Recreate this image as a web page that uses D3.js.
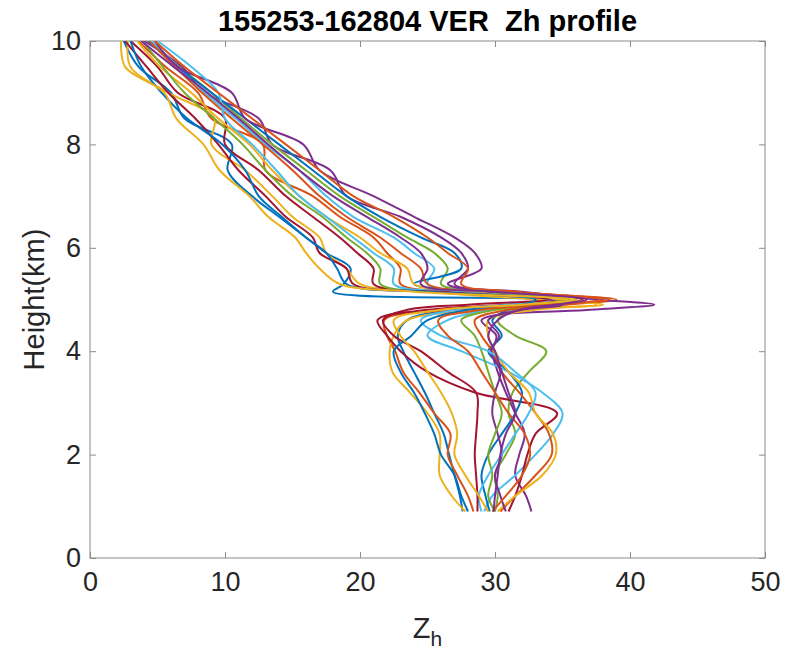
<!DOCTYPE html>
<html>
<head>
<meta charset="utf-8">
<script src="https://cdn.jsdelivr.net/npm/d3@7"></script>
<style>
  body { margin: 0; background: #fff; }
  svg { font-family: "Liberation Sans", Arial, sans-serif; }
</style>
</head>
<body>
<svg width="790" height="655"></svg>
<script>
// heights (km) shared by every profile
var heights = [0.9, 1.2, 1.6, 2.0, 2.4, 2.8, 3.2, 3.6, 4.0, 4.3, 4.6, 4.8, 4.9, 5.0, 5.15, 5.3, 5.6, 5.9, 6.2, 6.6, 7.0, 7.5, 8.0, 8.5, 9.0, 9.5, 10.0];

// Zh values (dBZ) per profile, same order as heights
var zh01 = [27.6, 27.4, 27.0, 26.6, 26.2, 25.5, 24.8, 24.0, 23.2, 22.8, 23.5, 27.0, 31.0, 33.5, 18.0, 18.8, 19.3, 17.5, 16.0, 14.0, 12.0, 10.2, 10.5, 7.0, 6.0, 3.6, 2.5];
var zh02 = [28.4, 28.0, 27.2, 26.5, 26.7, 25.5, 24.4, 23.2, 22.6, 22.0, 21.8, 27.0, 35.0, 39.0, 30.0, 23.0, 23.0, 22.0, 21.0, 18.5, 16.5, 13.0, 12.8, 9.0, 8.0, 5.6, 3.6];
var zh03 = [27.8, 26.8, 25.9, 25.9, 25.9, 25.0, 23.7, 22.4, 22.2, 22.5, 23.5, 30.0, 38.0, 33.0, 25.0, 20.0, 19.0, 17.5, 17.0, 15.0, 13.5, 11.5, 9.0, 9.2, 5.8, 3.0, 2.8];
var zh04 = [32.7, 32.3, 31.5, 31.8, 32.2, 31.5, 30.8, 30.2, 29.8, 30.1, 29.0, 37.0, 41.8, 37.5, 32.0, 27.0, 28.0, 27.5, 26.0, 23.0, 19.0, 17.8, 13.5, 12.5, 8.5, 6.8, 4.0];
var zh05 = [30.0, 30.2, 30.0, 30.8, 31.5, 31.0, 31.3, 32.5, 33.8, 31.5, 30.2, 31.5, 33.0, 35.0, 30.0, 26.0, 26.5, 25.5, 23.5, 21.0, 18.5, 16.0, 13.5, 11.2, 9.0, 6.6, 4.3];
var zh06 = [29.2, 29.8, 31.5, 33.0, 34.3, 35.0, 33.5, 31.0, 27.5, 25.0, 26.5, 29.5, 32.5, 34.5, 29.0, 25.0, 25.5, 24.0, 22.5, 19.5, 17.5, 15.5, 13.0, 10.8, 8.5, 6.5, 4.6];
var zh07 = [31.0, 31.5, 32.0, 32.4, 33.0, 34.6, 28.5, 25.0, 23.0, 22.0, 21.3, 25.0, 31.0, 36.5, 28.0, 21.0, 21.0, 19.8, 18.5, 16.5, 14.5, 12.5, 10.0, 10.0, 6.5, 5.0, 3.0];
var zh08 = [29.6, 29.3, 29.0, 29.5, 30.5, 31.5, 32.0, 31.0, 29.5, 30.5, 29.8, 31.0, 33.0, 35.5, 28.0, 24.0, 27.5, 27.0, 24.5, 21.5, 19.0, 16.5, 14.0, 11.5, 9.0, 6.5, 4.3];
var zh09 = [30.4, 31.5, 33.0, 34.2, 34.0, 33.0, 31.8, 30.5, 29.8, 29.0, 28.5, 31.0, 35.0, 37.8, 31.0, 25.0, 24.5, 23.0, 21.5, 19.0, 17.0, 15.0, 12.8, 10.5, 8.3, 6.3, 4.4];
var zh10 = [30.2, 31.5, 33.5, 34.5, 34.3, 33.0, 32.5, 31.0, 30.0, 29.5, 29.5, 33.0, 37.5, 35.0, 29.0, 24.0, 23.5, 21.5, 20.0, 17.5, 15.5, 13.5, 11.8, 9.5, 7.5, 5.2, 3.5];
var zh11 = [30.8, 30.4, 30.0, 30.5, 30.2, 29.8, 30.0, 30.4, 29.7, 30.3, 29.5, 32.0, 35.0, 34.0, 29.5, 26.5, 29.0, 28.5, 27.0, 24.0, 21.0, 17.0, 15.8, 11.5, 10.5, 6.5, 4.8];
var zh12 = [30.0, 29.5, 29.8, 29.5, 30.0, 30.5, 30.0, 29.5, 29.0, 28.5, 27.5, 30.0, 33.0, 36.0, 27.0, 21.5, 21.5, 20.5, 19.0, 17.2, 15.0, 13.0, 11.3, 9.2, 7.0, 5.4, 3.9];
var zh13 = [29.0, 28.8, 29.5, 30.5, 31.5, 32.5, 33.0, 31.5, 29.5, 26.0, 24.5, 27.0, 31.0, 34.0, 27.0, 22.5, 22.5, 21.0, 19.5, 17.5, 15.5, 13.8, 12.0, 10.0, 9.5, 7.5, 5.0];
var zh14 = [28.7, 28.7, 28.6, 28.5, 28.6, 28.7, 28.6, 26.5, 24.5, 22.5, 21.7, 23.5, 28.0, 34.0, 26.0, 19.5, 19.0, 17.0, 16.5, 14.5, 13.0, 11.0, 9.5, 7.8, 5.8, 4.2, 2.6];
var zh15 = [28.0, 27.5, 27.0, 26.0, 25.5, 24.8, 24.0, 23.0, 22.5, 23.8, 25.0, 28.0, 32.0, 33.0, 25.0, 19.0, 18.3, 17.5, 16.0, 14.2, 12.5, 11.5, 9.8, 7.2, 5.3, 3.8, 3.0];
var zh16 = [29.8, 30.8, 32.0, 32.6, 32.2, 31.0, 30.0, 29.0, 28.0, 26.5, 25.8, 29.0, 34.0, 38.5, 31.5, 27.5, 28.0, 26.5, 25.0, 22.5, 19.5, 17.0, 14.5, 12.0, 9.5, 7.0, 4.8];
var zh17 = [29.5, 28.8, 27.8, 27.0, 27.2, 26.8, 26.0, 25.0, 24.0, 23.0, 22.5, 26.0, 32.0, 36.0, 24.0, 18.5, 17.0, 16.0, 15.2, 13.2, 11.8, 9.6, 8.4, 6.4, 5.5, 2.6, 2.3];
var zh18 = [29.9, 30.0, 30.2, 30.4, 30.8, 31.5, 31.0, 30.5, 30.0, 29.5, 30.2, 31.8, 34.5, 36.8, 30.0, 24.5, 25.0, 24.5, 23.0, 20.5, 18.0, 15.5, 13.2, 11.0, 8.7, 6.2, 3.8];

var profiles = [zh01, zh02, zh03, zh04, zh05, zh06, zh07, zh08, zh09, zh10, zh11, zh12, zh13, zh14, zh15, zh16, zh17, zh18];

var xTicks = [0, 10, 20, 30, 40, 50];
var yTicks = [0, 2, 4, 6, 8, 10];
var lineColors = ["#0072BD", "#D95319", "#EDB120", "#7E2F8E", "#77AC30", "#4DBEEE", "#A2142F"];

const LEFT = 90;
const RIGHT = 765;
const TOP = 41;
const BOTTOM = 558;
const TEXT_COLOR = "#262626";
const AXIS_COLOR = "#8a8a8a";

var svg = d3.select("svg");
var x_scale = d3.scaleLinear().domain([0, 50]).range([LEFT, RIGHT]);
var y_scale = d3.scaleLinear().domain([0, 10]).range([BOTTOM, TOP]);

function style_axis(g, showText) {
  g.select(".domain").remove();
  g.selectAll(".tick line").attr("stroke", AXIS_COLOR);
  g.selectAll(".tick text")
    .attr("fill", TEXT_COLOR)
    .style("font-size", "27px")
    .style("font-family", "'Liberation Sans', Arial, sans-serif")
    .style("display", showText ? null : "none");
}

function build_axes() {
  svg.append("g")
    .attr("transform", "translate(0," + BOTTOM + ")")
    .call(d3.axisBottom(x_scale).tickValues(xTicks).tickSizeInner(-6).tickSizeOuter(0).tickPadding(14))
    .call((g) => style_axis(g, true));
  svg.append("g")
    .attr("transform", "translate(0," + TOP + ")")
    .call(d3.axisTop(x_scale).tickValues(xTicks).tickSizeInner(-6).tickSizeOuter(0))
    .call((g) => style_axis(g, false));
  svg.append("g")
    .attr("transform", "translate(" + LEFT + ",0)")
    .call(d3.axisLeft(y_scale).tickValues(yTicks).tickSizeInner(-6).tickSizeOuter(0).tickPadding(9))
    .call((g) => style_axis(g, true));
  svg.append("g")
    .attr("transform", "translate(" + RIGHT + ",0)")
    .call(d3.axisRight(y_scale).tickValues(yTicks).tickSizeInner(-6).tickSizeOuter(0))
    .call((g) => style_axis(g, false));

  svg.append("rect")
    .attr("x", LEFT)
    .attr("y", TOP)
    .attr("width", RIGHT - LEFT)
    .attr("height", BOTTOM - TOP)
    .attr("fill", "none")
    .attr("stroke", AXIS_COLOR)
    .attr("stroke-width", 1);
}

function draw_profiles() {
  svg.append("clipPath")
    .attr("id", "plotclip")
    .append("rect")
    .attr("x", LEFT)
    .attr("y", TOP)
    .attr("width", RIGHT - LEFT)
    .attr("height", BOTTOM - TOP);

  var line = d3.line()
    .x((d) => x_scale(d[0]))
    .y((d) => y_scale(d[1]))
    .curve(d3.curveCatmullRom.alpha(0.5));

  svg.append("g")
    .attr("clip-path", "url(#plotclip)")
    .selectAll("path")
    .data(profiles)
    .enter()
    .append("path")
    .attr("d", (p) => line(p.map((z, i) => [z, heights[i]])))
    .attr("fill", "none")
    .attr("stroke", (p, i) => lineColors[i % lineColors.length])
    .attr("stroke-width", 2)
    .attr("stroke-linejoin", "round");
}

function add_labels() {
  svg.append("text")
    .attr("x", (LEFT + RIGHT) / 2)
    .attr("y", 31)
    .attr("text-anchor", "middle")
    .attr("fill", "#000")
    .style("font-size", "29px")
    .style("font-weight", "bold")
    .style("white-space", "pre")
    .text("155253-162804 VER  Zh profile");

  var xl = svg.append("text")
    .attr("x", (LEFT + RIGHT) / 2)
    .attr("y", 638)
    .attr("text-anchor", "middle")
    .attr("fill", TEXT_COLOR)
    .style("font-size", "29px");
  xl.append("tspan").text("Z");
  xl.append("tspan").attr("dy", 8).style("font-size", "21px").text("h");

  svg.append("text")
    .attr("transform", "translate(44," + (TOP + BOTTOM) / 2 + ") rotate(-90)")
    .attr("text-anchor", "middle")
    .attr("fill", TEXT_COLOR)
    .style("font-size", "29px")
    .text("Height(km)");
}

build_axes();
draw_profiles();
add_labels();
</script>
</body>
</html>
